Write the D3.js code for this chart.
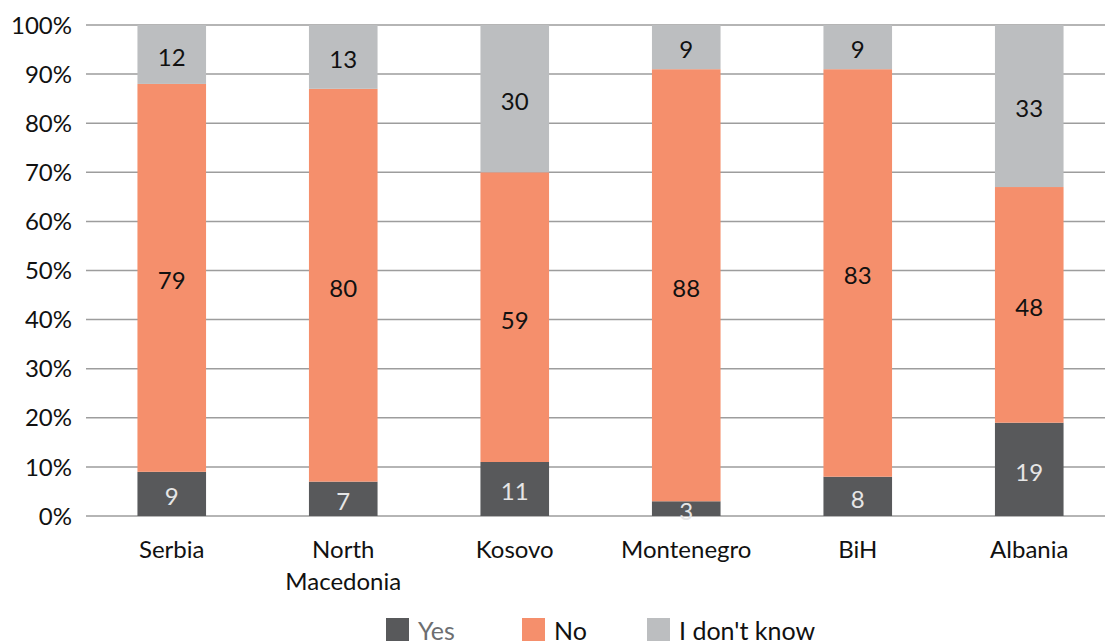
<!DOCTYPE html>
<html>
<head>
<meta charset="utf-8">
<script src="https://cdn.jsdelivr.net/npm/d3@7"></script>
<style>
  body { margin: 0; background: #fff; }
  svg { display: block; font-family: Lato, "Open Sans", sans-serif; }
  .tick text { fill: #111; }
</style>
</head>
<body>
<svg id="chart" width="1105" height="644"></svg>
<script>
const countries = ['Serbia', 'North Macedonia', 'Kosovo', 'Montenegro', 'BiH', 'Albania']
const yes = [9, 7, 11, 3, 8, 19]
const no = [79, 80, 59, 88, 83, 48]
const dontKnow = [12, 13, 30, 9, 9, 33]
const seriesNames = ['Yes', 'No', "I don't know"]
const seriesColors = ['#58595b', '#f58f6c', '#bcbec0']
const labelColors = ['#e6e6e6', '#111', '#111']
const yTicks = [0, 10, 20, 30, 40, 50, 60, 70, 80, 90, 100]

const rows = countries.map((c, i) => ({country: c, Yes: yes[i], No: no[i], "I don't know": dontKnow[i]}))

const svg = d3.select('#chart')

const x = d3.scaleBand().domain(countries).range([86, 1115]).paddingInner(0.6).paddingOuter(0.3)
const y = d3.scaleLinear().domain([0, 100]).range([516, 25])

// gridlines
svg.append('g')
  .selectAll('line')
  .data(yTicks)
  .join('line')
  .attr('x1', 86)
  .attr('x2', 1105)
  .attr('y1', d => y(d))
  .attr('y2', d => y(d))
  .attr('stroke', '#9d9d9d')
  .attr('stroke-width', 1.5)

// y axis labels
const yAxis = svg.append('g')
  .attr('transform', 'translate(86,0)')
  .call(d3.axisLeft(y).tickValues(yTicks).tickFormat(d => d + '%').tickSize(0).tickPadding(14))
yAxis.select('.domain').remove()
yAxis.selectAll('text').attr('font-size', 24).attr('font-family', 'Lato, sans-serif').attr('dy', '0.34em')

const stacked = d3.stack().keys(seriesNames)(rows)

const layers = svg.append('g')
  .selectAll('g')
  .data(stacked)
  .join('g')
  .attr('fill', (d, i) => seriesColors[i])

layers.selectAll('rect')
  .data(d => d)
  .join('rect')
  .attr('x', d => x(d.data.country))
  .attr('width', x.bandwidth())
  .attr('y', d => y(d[1]))
  .attr('height', d => y(d[0]) - y(d[1]))

// value labels
svg.append('g')
  .selectAll('g')
  .data(stacked)
  .join('g')
  .attr('fill', (d, i) => labelColors[i])
  .selectAll('text')
  .data(d => d)
  .join('text')
  .attr('x', d => x(d.data.country) + x.bandwidth() / 2)
  .attr('y', d => (y(d[0]) + y(d[1])) / 2 + 3)
  .attr('dy', '0.35em')
  .attr('text-anchor', 'middle')
  .attr('font-size', 24)
  .text(d => d[1] - d[0])

// x axis labels
const xAxis = svg.append('g')
  .attr('transform', 'translate(0,516)')
  .call(d3.axisBottom(x).tickSize(0).tickPadding(25))
xAxis.select('.domain').remove()
xAxis.selectAll('text')
  .attr('font-size', 24)
  .attr('font-family', 'Lato, sans-serif')
  .each(function(d) {
    const words = d.split(' ')
    if (words.length > 1) {
      const t = d3.select(this).text(null)
      words.forEach((w, i) => {
        t.append('tspan').attr('x', 0).attr('dy', i === 0 ? '0.71em' : '1.35em').text(w)
      })
    }
  })

// legend
const legendX = [386, 522, 647]
const legend = svg.append('g')
  .selectAll('g')
  .data(seriesNames)
  .join('g')
  .attr('transform', (d, i) => `translate(${legendX[i]},618)`)

legend.append('rect')
  .attr('width', 23)
  .attr('height', 23)
  .attr('fill', (d, i) => seriesColors[i])

legend.append('text')
  .attr('x', 32)
  .attr('y', 22)
  .attr('font-size', 25)
  .attr('fill', (d, i) => i === 0 ? '#6d6e71' : '#111')
  .text(d => d)
</script>
</body>
</html>
